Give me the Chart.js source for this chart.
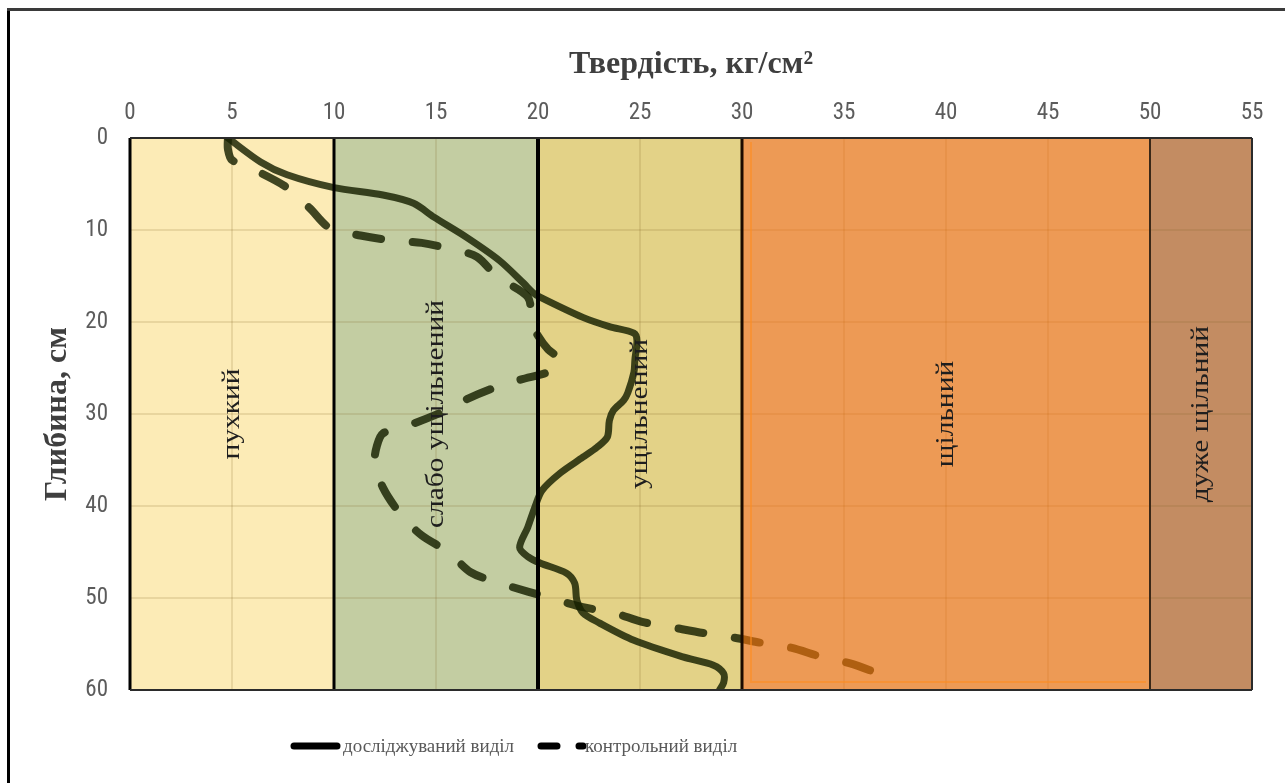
<!DOCTYPE html>
<html lang="uk">
<head>
<meta charset="utf-8">
<title>Твердість ґрунту</title>
<script src="https://cdn.jsdelivr.net/npm/chart.js@4.4.1/dist/chart.umd.min.js"></script>
<style>
  html, body { margin: 0; padding: 0; background: #fff; }
  #wrap { position: relative; width: 1285px; height: 783px; }
</style>
</head>
<body>
<div id="wrap"><canvas id="hardnessChart"></canvas></div>
<script>
// tick labels
const hardnessTicks = [0, 5, 10, 15, 20, 25, 30, 35, 40, 45, 50, 55];
const depthTicks = [0, 10, 20, 30, 40, 50, 60];

// soil density zones, kg/cm2
const zoneNames = ['пухкий', 'слабо ущільнений', 'ущільнений', 'щільний', 'дуже щільний'];
const zoneFrom = [0, 10, 20, 30, 50];
const zoneTo = [10, 20, 30, 50, 55];

// досліджуваний виділ: depth (cm) / hardness (kg/cm2)
const studyDepth = [0, 2.6, 4.0, 5.4, 6.2, 7.1, 8.6, 10.8, 13.3, 15.8, 16.8, 17.3, 19.5, 20.5, 21.2, 22.0,
  24.1, 25.5, 27.7, 28.5, 29.6, 30.7, 32.5, 33.6, 34.7, 36.4, 38.3, 40.1, 42.3, 44.5, 45.5, 46.2,
  47.3, 48.4, 50.2, 51.6, 52.7, 54.6, 56.4, 57.3, 58.2, 59.2, 60];
const studyHardness = [4.8, 6.4, 7.7, 10.0, 12.4, 13.9, 14.9, 16.5, 18.1, 19.3, 19.75, 20.1, 22.2, 23.5, 24.7, 24.85,
  24.75, 24.7, 24.4, 24.2, 23.7, 23.5, 23.4, 22.9, 22.2, 21.1, 20.2, 19.85, 19.5, 19.1, 19.5, 20.1,
  21.4, 21.8, 21.9, 22.2, 23.0, 24.7, 27.1, 28.6, 29.1, 29.1, 28.9];

// контрольний виділ
const controlDepth = [0, 1.2, 2.4, 3.8, 5.4, 7.6, 9.8, 10.6, 11.1, 11.4, 12.0, 12.9, 15.1, 17.3, 20.1, 21.5,
  23.0, 24.1, 25.2, 26.3, 27.2, 28.5, 29.6, 31.2, 32.1, 33.5, 35.2, 38.0, 41.0, 43.2, 45.0, 47.2,
  48.3, 49.3, 50.2, 51.0, 51.6, 52.6, 53.2, 53.8, 54.3, 54.9, 55.4, 56.4, 57.1, 58.2];
const controlHardness = [4.8, 4.8, 5.0, 6.4, 7.7, 8.8, 9.8, 11.3, 12.7, 14.3, 15.6, 17.0, 18.0, 19.5, 19.7, 20.0,
  20.5, 21.1, 20.8, 19.1, 17.8, 16.4, 15.5, 13.7, 12.4, 12.1, 12.0, 12.4, 13.3, 14.3, 15.6, 16.7,
  18.0, 19.5, 20.9, 22.2, 23.7, 25.1, 26.6, 28.1, 29.6, 31.0, 32.4, 33.9, 35.3, 36.7];

const toPoints = (depth, hard) => depth.map((d, i) => ({ x: hard[i], y: d }));

// zone fills; the orange one is laid over the lines, so it tints them
const zoneFill = ['#fcebb6', '#c3cda2', '#e3d287', 'rgba(228,106,5,0.68)', '#c38c62'];
const zoneOnTop = [false, false, false, true, false];
const dividerWidth = [3, 3, 4, 3, 2, 2];
const dividerColor = ['#000', '#000', '#000', '#1a0a00', '#3a2818', '#2a2a2a'];

const LINE = 'rgba(22,32,0,0.82)';
const labelFont = '"Liberation Serif", "Times New Roman", serif';
const tickFont = { family: '"Liberation Sans Narrow", "Roboto Condensed", "Liberation Sans", sans-serif', size: 23 };

function fillZone(ctx, chart, i) {
  const { chartArea: a, scales: { x } } = chart;
  const l = x.getPixelForValue(zoneFrom[i]);
  const r = x.getPixelForValue(zoneTo[i]);
  ctx.fillStyle = zoneFill[i];
  ctx.fillRect(l, a.top, r - l, a.bottom - a.top);
}

const zonePlugin = {
  id: 'zones',
  beforeDraw(chart) {
    const { ctx } = chart;
    ctx.save();
    ctx.fillStyle = '#fff';
    ctx.fillRect(0, 0, chart.width, chart.height);
    zoneFill.forEach((c, i) => { if (!zoneOnTop[i]) fillZone(ctx, chart, i); });
    ctx.restore();
  },
  afterDatasetsDraw(chart) {
    const { ctx, chartArea: a, scales: { x, y } } = chart;
    ctx.save();
    zoneFill.forEach((c, i) => { if (zoneOnTop[i]) fillZone(ctx, chart, i); });

    // thin bright edge inside the orange zone
    ctx.strokeStyle = 'rgba(255,140,30,0.55)';
    ctx.lineWidth = 2;
    const ol = x.getPixelForValue(zoneFrom[3]) + 9;
    ctx.beginPath();
    ctx.moveTo(ol, a.top + 4);
    ctx.lineTo(ol, a.bottom - 8);
    ctx.lineTo(x.getPixelForValue(zoneTo[3]) - 4, a.bottom - 8);
    ctx.stroke();

    // zone dividers
    const edges = [zoneFrom[0], ...zoneTo];
    edges.forEach((v, i) => {
      const px = Math.round(x.getPixelForValue(v));
      ctx.strokeStyle = dividerColor[i];
      ctx.lineWidth = dividerWidth[i];
      ctx.beginPath();
      ctx.moveTo(px, a.top);
      ctx.lineTo(px, a.bottom);
      ctx.stroke();
    });
    ctx.strokeStyle = '#2b2b2b';
    ctx.lineWidth = 2;
    ctx.beginPath();
    ctx.moveTo(a.left, a.top); ctx.lineTo(a.right, a.top);
    ctx.moveTo(a.left, a.bottom); ctx.lineTo(a.right, a.bottom);
    ctx.stroke();

    // zone names, written bottom to top
    ctx.fillStyle = '#1e1e1e';
    ctx.font = '25px ' + labelFont;
    ctx.textAlign = 'center';
    ctx.textBaseline = 'middle';
    const cy = y.getPixelForValue(30);
    zoneNames.forEach((name, i) => {
      const cx = x.getPixelForValue((zoneFrom[i] + zoneTo[i]) / 2);
      ctx.save();
      ctx.translate(cx, cy);
      ctx.rotate(-Math.PI / 2);
      ctx.scale(1.18, 1);
      ctx.fillText(name, 0, 0);
      ctx.restore();
    });
    ctx.restore();
  },
  afterDraw(chart) {
    const { ctx } = chart;
    ctx.save();
    // outer frame
    ctx.fillStyle = '#000';
    ctx.fillRect(7, 8, 3, chart.height - 8);
    ctx.fillStyle = '#3a3a3a';
    ctx.fillRect(7, 8, chart.width - 7, 3);

    // legend
    const ly = 746;
    const items = [
      { ds: chart.data.datasets[0], x0: 294, x1: 337, tx: 343 },
      { ds: chart.data.datasets[1], x0: 541, x1: 583, tx: 585 }
    ];
    ctx.font = '19px ' + labelFont;
    ctx.textBaseline = 'middle';
    ctx.textAlign = 'left';
    items.forEach(it => {
      ctx.strokeStyle = '#000';
      ctx.lineWidth = 7;
      ctx.lineCap = 'round';
      ctx.setLineDash(it.ds.borderDash ? [16, 22] : []);
      ctx.beginPath();
      ctx.moveTo(it.x0, ly);
      ctx.lineTo(it.x1, ly);
      ctx.stroke();
      ctx.setLineDash([]);
      ctx.fillStyle = '#595959';
      ctx.fillText(it.ds.label, it.tx, ly + 1);
    });
    ctx.restore();
  }
};

new Chart(document.getElementById('hardnessChart'), {
  type: 'scatter',
  data: {
    datasets: [
      {
        label: 'досліджуваний виділ',
        data: toPoints(studyDepth, studyHardness),
        showLine: true,
        borderColor: LINE,
        borderWidth: 7,
        tension: 0.3,
        pointRadius: 0,
        borderCapStyle: 'round',
        borderJoinStyle: 'round'
      },
      {
        label: 'контрольний виділ',
        data: toPoints(controlDepth, controlHardness),
        showLine: true,
        borderColor: LINE,
        borderWidth: 8,
        borderDash: [25, 32],
        tension: 0.3,
        pointRadius: 0,
        borderCapStyle: 'round',
        borderJoinStyle: 'round'
      }
    ]
  },
  options: {
    responsive: true,
    maintainAspectRatio: false,
    animation: false,
    layout: { padding: { left: 0, top: 0, right: 33, bottom: 93 } },
    plugins: { legend: { display: false }, tooltip: { enabled: false } },
    scales: {
      x: {
        type: 'linear',
        position: 'top',
        min: 0,
        max: 55,
        afterBuildTicks: s => { s.ticks = hardnessTicks.map(v => ({ value: v })); },
        afterFit: s => { s.height = 138; },
        grid: { color: 'rgba(130,100,40,0.16)', lineWidth: 2, drawTicks: false },
        border: { display: false },
        ticks: { color: '#5c5c5c', font: tickFont, padding: 11, maxRotation: 0 },
        title: {
          display: true,
          text: 'Твердість, кг/см²',
          color: '#3f3f3f',
          font: { family: labelFont, size: 32, weight: 'bold' },
          padding: { top: 46, bottom: 0 }
        }
      },
      y: {
        type: 'linear',
        reverse: true,
        min: 0,
        max: 60,
        afterBuildTicks: s => { s.ticks = depthTicks.map(v => ({ value: v })); },
        afterFit: s => { s.width = 130; },
        grid: { color: 'rgba(130,100,40,0.16)', lineWidth: 2, drawTicks: false },
        border: { display: false },
        ticks: { color: '#5c5c5c', font: tickFont, padding: 22 },
        title: {
          display: true,
          text: 'Глибина, см',
          color: '#3f3f3f',
          font: { family: labelFont, size: 32, weight: 'bold' },
          padding: { top: 39, bottom: 0 }
        }
      }
    }
  },
  plugins: [zonePlugin]
});
</script>
</body>
</html>
